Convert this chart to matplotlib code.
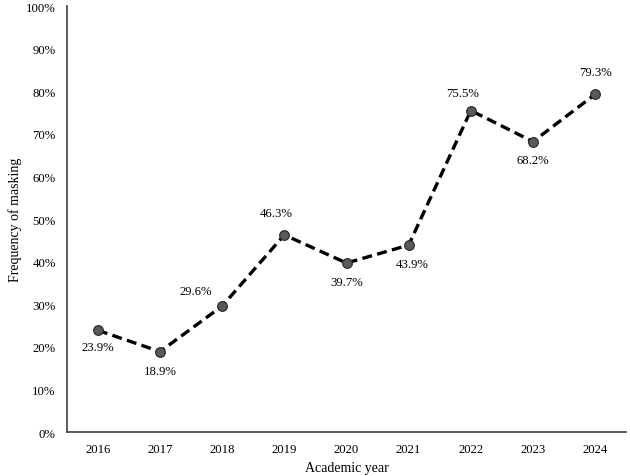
import matplotlib.pyplot as plt
from matplotlib.ticker import PercentFormatter

years = ['2016', '2017', '2018', '2019', '2020', '2021', '2022', '2023', '2024']
masking = [23.9, 18.9, 29.6, 46.3, 39.7, 43.9, 75.5, 68.2, 79.3]
# label offsets in pixels (dx, dy)
label_offsets = [(0, -17), (0, -19), (-26, 15), (-8, 22), (0, -19),
                 (4, -19), (-8, 18), (0, -18), (0, 22)]

plt.rcParams['font.family'] = ['Liberation Serif', 'DejaVu Serif']

fig = plt.figure(figsize=(6.3, 4.77), dpi=100)
ax = fig.add_axes([0.106, 0.092, 0.888, 0.893])

x = list(range(len(years)))
ax.plot(x, masking, color='black', linestyle=(0, (3, 1.6)), linewidth=2.4, zorder=2)
ax.plot(x, masking, linestyle='none', marker='o', markersize=7,
        markerfacecolor='#595959', markeredgecolor='#262626', markeredgewidth=0.8, zorder=3)

px = 0.72
for xi, v, (dx, dy) in zip(x, masking, label_offsets):
    ax.annotate(f'{v:.1f}%', (xi, v), xytext=(dx * px, dy * px), textcoords='offset points',
                ha='center', va='center', fontsize=9.2, color='black')

ax.set_xlim(-0.5, len(years) - 0.5)
ax.set_ylim(0, 100)
ax.set_yticks(range(0, 101, 10))
ax.yaxis.set_major_formatter(PercentFormatter(decimals=0))
ax.set_xticks(x)
ax.set_xticklabels(years)
ax.tick_params(length=0, labelsize=9.2, colors='black', pad=8)

for s in ['top', 'right']:
    ax.spines[s].set_visible(False)
for s in ['left', 'bottom']:
    ax.spines[s].set_color('#404040')
    ax.spines[s].set_linewidth(1.2)

ax.set_xlabel('Academic year', fontsize=10, color='black', labelpad=4)
ax.set_ylabel('Frequency of masking', fontsize=10, color='black', labelpad=3)

fig.savefig('out.png', dpi=100)
